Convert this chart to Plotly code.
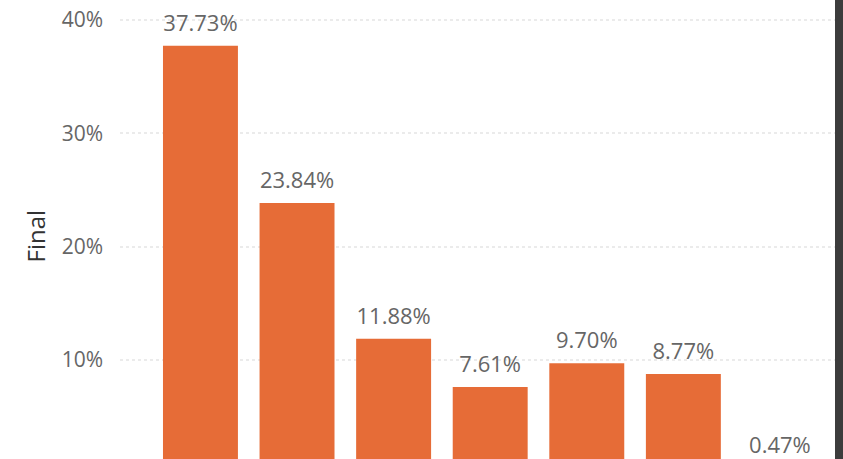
import plotly.graph_objects as go

categories = ["A", "B", "C", "D", "E", "F", "G"]
values = [37.73, 23.84, 11.88, 7.61, 9.70, 8.77, 0.47]
tick_values = [10, 20, 30, 40]
tick_labels = ["10%", "20%", "30%", "40%"]

bar_color = "#E66C37"
label_color = "#666666"
font_family = "Open Sans, sans-serif"

y_range = [1.26, 41.76]
label_lift = 0.85  # labels ride on a twin axis shifted by this many percent

fig = go.Figure()
fig.add_trace(
    go.Bar(
        x=categories,
        y=values,
        marker=dict(color=bar_color, line=dict(width=0)),
        hoverinfo="skip",
    )
)

# value labels above each bar
fig.add_trace(
    go.Scatter(
        x=categories,
        y=values,
        yaxis="y2",
        mode="text",
        text=[f"{v:.2f}%" for v in values],
        textposition="top center",
        textfont=dict(family=font_family, size=22, color=label_color),
        cliponaxis=False,
        hoverinfo="skip",
    )
)

# axis title
fig.add_annotation(
    xref="paper", yref="paper", x=(35 - 120) / 715, y=0.485,
    text="Final", textangle=-90, showarrow=False,
    xanchor="center", yanchor="middle",
    font=dict(family=font_family, size=24, color="#333333"),
)

# dark strip along the right edge
fig.add_shape(
    type="rect", xref="paper", yref="paper",
    x0=1.0, x1=1.02, y0=-0.01, y1=1.01,
    fillcolor="#3c3c3c", line=dict(width=0), layer="above",
)

fig.update_layout(
    width=843, height=459,
    margin=dict(l=120, r=8, t=0, b=0),
    paper_bgcolor="white", plot_bgcolor="white",
    bargap=0.224, showlegend=False,
    font=dict(family=font_family, color=label_color),
    xaxis=dict(
        range=[-0.833, 6.57], showticklabels=False, showgrid=False,
        zeroline=False, showline=False, ticks="",
    ),
    yaxis=dict(
        range=y_range, tickvals=tick_values, ticktext=tick_labels,
        showgrid=True, gridcolor="#ebebeb", griddash="dot", gridwidth=2,
        zeroline=False, showline=False, ticks="",
        tickfont=dict(family=font_family, size=21, color=label_color),
        ticklabelstandoff=16,
    ),
    yaxis2=dict(
        overlaying="y", visible=False,
        range=[y_range[0] - label_lift, y_range[1] - label_lift],
    ),
)

fig.write_html("out.html")
